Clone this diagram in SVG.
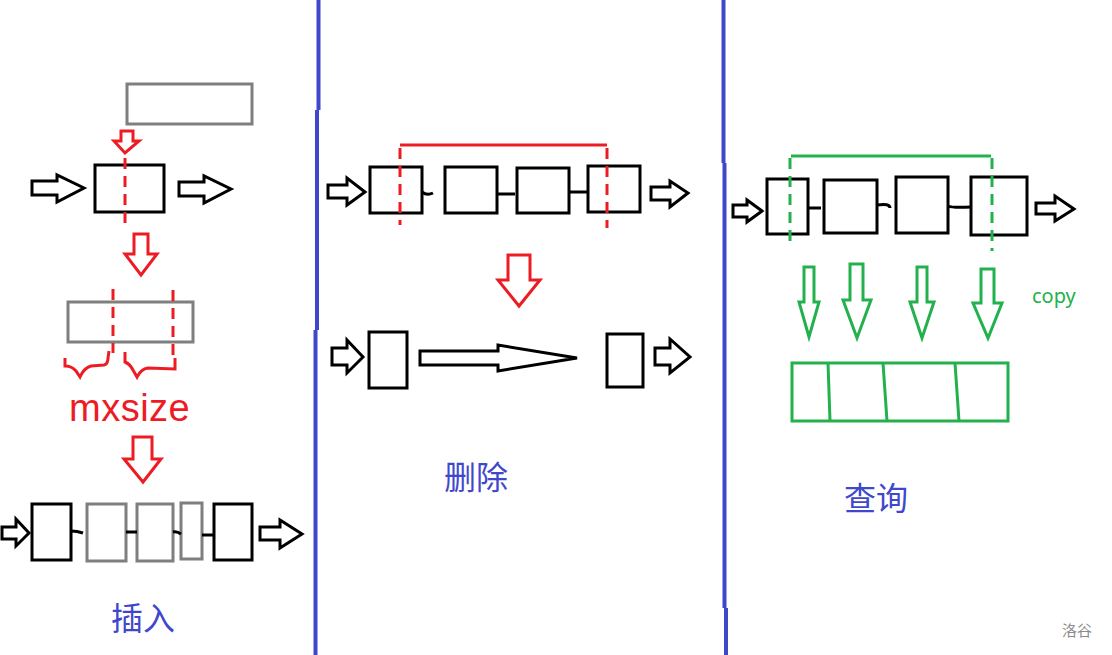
<svg xmlns="http://www.w3.org/2000/svg" width="1112" height="655" viewBox="0 0 1112 655">
<style>
.blk{fill:#fff;stroke:#000;stroke-width:3}
.gry{fill:#fff;stroke:#7f7f7f;stroke-width:3}
.arr{fill:#fff;stroke:#000;stroke-width:3;stroke-linejoin:miter}
.rarr{fill:#fff;stroke:#ed1c24;stroke-width:3}
.garr{fill:#fff;stroke:#22b14c;stroke-width:3}
.link{fill:none;stroke:#000;stroke-width:3}
.rdash{fill:none;stroke:#ed1c24;stroke-width:3;stroke-dasharray:11 7}
.gdash{fill:none;stroke:#22b14c;stroke-width:3;stroke-dasharray:11 7}
.red{fill:none;stroke:#ed1c24;stroke-width:3}
.grn{fill:none;stroke:#22b14c;stroke-width:3}
.div{fill:none;stroke:#3f48cc;stroke-width:4}
.lbl{font-family:"Noto Sans CJK SC","Noto Sans",sans-serif;font-size:32px;fill:#3f48cc}
</style>
<rect width="1112" height="655" fill="#fff"/>
<g id="dividers">
<path class="div" d="M318.5,0 V110 M317,110 V330 M315.5,330 V655"/>
<path class="div" d="M723.5,0 V163 M724.5,163 V608 M726,608 V655"/>
</g>
<g id="insert">
<g id="ins-newnode"><rect class="gry" x="127" y="84" width="125" height="40"/></g>
<g id="ins-node"><rect class="blk" x="95" y="165" width="69" height="47"/></g>
<path class="rdash" d="M125,158 V224"/>
<g id="ins-array"><rect class="gry" x="68" y="302" width="125" height="40"/></g>
<path class="rdash" d="M113,289 V353"/>
<path class="rdash" d="M173,290 V362"/>
<path class="red" d="M65,358 V366 Q72,366 76,371 L80,377 Q84,368 91,366 L104,365 Q108,364 108,358 L109,351"/>
<path class="red" d="M125,352 V362 Q130,364 133,370 L137,377 Q141,369 148,368 L175,369 V358"/>
<text id="mxsize" x="69" y="421" font-family="'Liberation Sans',sans-serif" font-size="38" fill="#ed1c24" letter-spacing="0.5">mxsize</text>
<g id="ins-b1"><rect class="blk" x="32" y="504" width="39" height="56"/></g>
<g id="ins-b2"><rect class="gry" x="87" y="504" width="39" height="57"/></g>
<g id="ins-b3"><rect class="gry" x="137" y="504" width="36" height="57"/></g>
<g id="ins-b4"><rect class="gry" x="181" y="503" width="21" height="56"/></g>
<g id="ins-b5"><rect class="blk" x="214" y="504" width="38" height="56"/></g>
<text class="lbl" x="111" y="630">插入</text>
</g>
<g id="delete">
<g id="del-b1"><rect class="blk" x="370" y="167" width="52" height="46"/></g>
<g id="del-b2"><rect class="blk" x="445" y="167" width="52" height="46"/></g>
<g id="del-b3"><rect class="blk" x="517" y="168" width="52" height="45"/></g>
<g id="del-b4"><rect class="blk" x="588" y="166" width="52" height="46"/></g>
<path class="red" d="M400,145 H607"/>
<path class="rdash" d="M400,148 V225"/>
<path class="rdash" d="M607,148 V228"/>
<g id="del-l"><rect class="blk" x="369" y="332" width="38" height="56"/></g>
<g id="del-r"><rect class="blk" x="607" y="334" width="36" height="53"/></g>
<text class="lbl" x="444" y="489">删除</text>
</g>
<g id="query">
<g id="q-b1"><rect class="blk" x="767" y="179" width="41" height="55"/></g>
<g id="q-b2"><rect class="blk" x="824" y="180" width="53" height="53"/></g>
<g id="q-b3"><rect class="blk" x="896" y="177" width="52" height="56"/></g>
<g id="q-b4"><rect class="blk" x="971" y="177" width="56" height="58"/></g>
<path class="grn" d="M791,156 H991"/>
<path class="gdash" d="M790,158 V248"/>
<path class="gdash" d="M992,158 V251"/>
<text x="1032" y="303" font-family="'Noto Sans',sans-serif" font-size="20" fill="#22b14c">copy</text>
<g id="q-array">
<rect class="grn" x="792" y="363" width="216" height="58"/>
<path class="grn" d="M828,363 L830,421 M883,363 L887,421 M955,363 L959,421"/>
</g>
<text class="lbl" x="844" y="510">查询</text>
</g>
<g id="connectors">
<polygon class="rarr" points="121,131 133,131 133,141 139,141 125,153 114,141 121,141"/>
<polygon class="rarr" points="134,234 148,234 148,254 157,254 141,275 125,254 134,254"/>
<polygon class="rarr" points="133,437 152,437 152,459 161,459 143,482 124,459 133,459"/>
<polygon class="arr" points="32,181 57,181 57,175 84,188 57,202 57,195 32,195"/>
<polygon class="arr" points="179,182 204,182 204,176 231,189 204,203 204,196 179,196"/>
<polygon class="arr" points="2,527 16,527 16,519 29,533 16,546 16,539 2,539"/>
<polygon class="arr" points="260,527 280,527 280,520 302,534 280,548 280,540 260,540"/>
<path class="link" d="M71,531 Q77,531 83,533 M126,532 H137 M173,532 Q177,531 181,534 M202,535 H215"/>
<polygon class="arr" points="328,185 347,185 347,178 365,192 347,205 347,198 328,198"/>
<polygon class="arr" points="651,187 670,187 670,181 688,193 670,207 670,200 651,200"/>
<path class="link" d="M422,192 Q427,196 433,193 M497,194 H515 M569,192 H588"/>
<polygon class="rarr" points="508,255 530,255 530,280 540,280 519,306 498,280 508,280"/>
<polygon class="arr" points="332,348 347,348 347,340 363,357 347,373 347,365 332,365"/>
<polygon class="arr" points="420,351 498,351 498,345 577,358 498,371 498,365 420,365"/>
<polygon class="arr" points="655,348 670,348 670,339 690,357 670,373 670,365 655,365"/>
<polygon class="arr" points="733,205 747,205 747,200 762,211 747,222 747,217 733,217"/>
<polygon class="arr" points="1036,203 1055,203 1055,196 1074,209 1055,221 1055,214 1036,214"/>
<path class="link" d="M808,208 H821 M877,205 Q890,203 890,208 M948,206 Q952,208 971,207"/>
<polygon class="garr" points="804,267 814,267 814,302 819,302 809,337 799,302 804,302"/>
<polygon class="garr" points="850,264 863,264 863,300 871,300 857,338 843,300 850,300"/>
<polygon class="garr" points="917,267 927,267 927,302 934,302 922,338 910,302 917,302"/>
<polygon class="garr" points="981,269 994,269 994,303 1002,303 988,338 973,303 981,303"/>
</g>
<text x="1062" y="636" font-family="'Noto Sans CJK SC',sans-serif" font-size="15" fill="#8c8c8c">洛谷</text>
</svg>
